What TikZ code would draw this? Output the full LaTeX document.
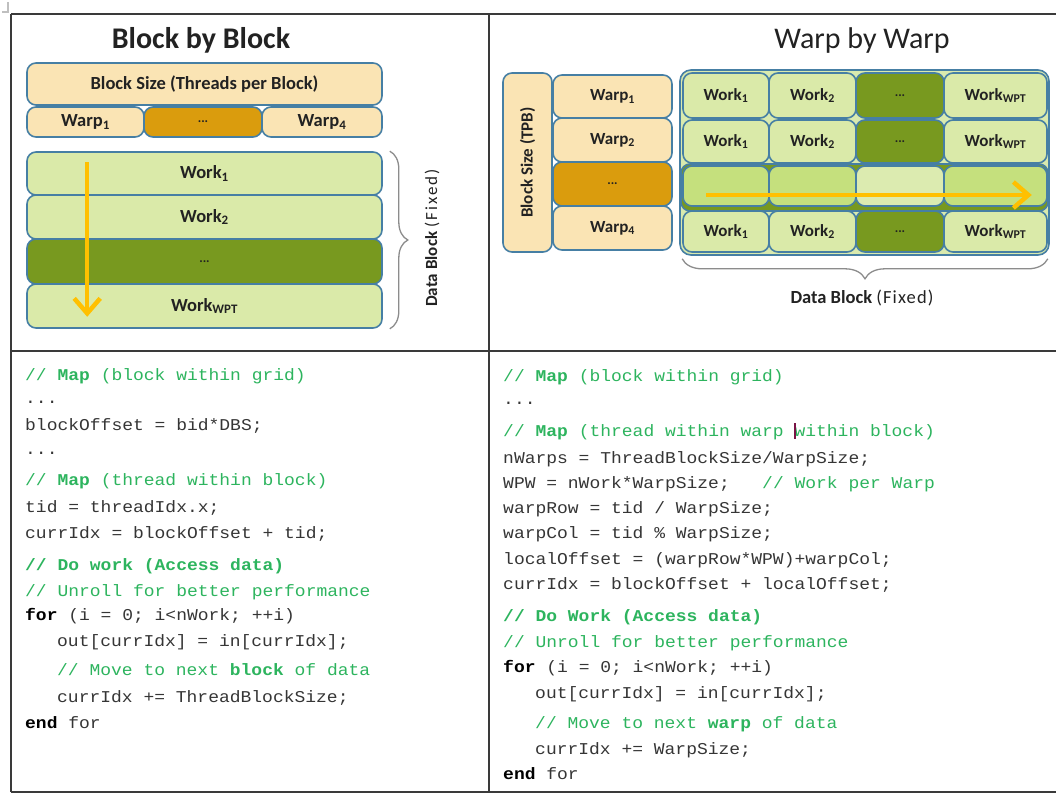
\documentclass[tikz,border=0pt]{standalone}
\usepackage{fontspec}
\setmainfont{Carlito}
\newfontfamily\codefont{Liberation Mono}[FakeStretch=1.09]
\usetikzlibrary{arrows.meta,decorations.pathreplacing,calc}

\definecolor{tanfill}{HTML}{FAE4B4}
\definecolor{warporange}{HTML}{DA9C0D}
\definecolor{edgeblue}{HTML}{467FA4}
\definecolor{workgreen}{HTML}{DAEAA9}
\definecolor{olive}{HTML}{78991F}
\definecolor{rowbright}{HTML}{C5E07D}
\definecolor{rowpale}{HTML}{DCEBB0}
\definecolor{gridbg}{HTML}{D9EAAE}
\definecolor{flowarrow}{HTML}{FFC000}
\definecolor{cmtgreen}{HTML}{2DB45E}
\definecolor{codegray}{HTML}{353535}
\definecolor{labeltext}{HTML}{222222}
\definecolor{bracegray}{HTML}{8C8C8C}
\definecolor{rulegray}{HTML}{3A3A3A}
\definecolor{cursorred}{HTML}{7A1446}

\newcommand\cmt[1]{\textcolor{cmtgreen}{#1}}
\newcommand\kw[1]{\textcolor{black}{\bfseries #1}}

\begin{document}
\begin{tikzpicture}[x=1pt,y=-1pt,
  cell/.style={draw=edgeblue, line width=1.6pt, rounded corners=9pt,
    inner sep=0pt, text=labeltext, align=center},
  tancell/.style={cell, fill=tanfill},
  orangecell/.style={cell, fill=warporange},
  greencell/.style={cell, fill=workgreen},
  olivecell/.style={cell, fill=olive},
  bigfont/.style={font=\bfseries\fontsize{18.5}{20}\selectfont},
  smallfont/.style={font=\bfseries\fontsize{17}{19}\selectfont},
  dotsfont/.style={font=\bfseries\fontsize{13}{13}\selectfont},
  code/.style={anchor=base west, inner sep=0pt, text=codegray,
    font=\codefont\fontsize{16.5}{18}\selectfont},
  flow/.style={draw=flowarrow, line width=4.5pt,
    -{Straight Barb[length=15pt,width=26pt,line width=4.5pt]}},
  bracket/.style={draw=bracegray, line width=1.3pt, decorate},
  rule/.style={draw=rulegray, line width=2pt}
]
\useasboundingbox (0,0) rectangle (1056,794);

% ---------- table rules ----------
\draw[rule] (11,14) -- (1056,14);
\draw[rule] (11,14) -- (11,792);
\draw[rule] (489,14) -- (489,792);
\draw[rule] (11,351) -- (1056,351);
\draw[rule] (11,792) -- (1056,792);
\draw[draw=gray!50, line width=1.4pt] (2,12) -- (9,12) (8,2) -- (8,12);

% ---------- block by block ----------
\node[anchor=base, font=\bfseries\fontsize{30}{32}\selectfont, text=labeltext]
  (titleL) at (201,49) {Block by Block};

\node[tancell, bigfont, minimum width=355pt, minimum height=42pt] (bsz) at (204.5,84)
  {Block Size (Threads per Block)};
\node[tancell, bigfont, minimum width=117pt, minimum height=30pt] (lw1) at (85.5,122)
  {Warp\textsubscript{1}};
\node[orangecell, dotsfont, minimum width=118pt, minimum height=30pt] (lwd) at (203,122)
  {...};
\node[tancell, bigfont, minimum width=120pt, minimum height=30pt] (lw4) at (322,122)
  {Warp\textsubscript{4}};

\node[greencell, bigfont, minimum width=355pt, minimum height=43pt] (lk1) at (204.5,173.5)
  {Work\textsubscript{1}};
\node[greencell, bigfont, minimum width=355pt, minimum height=44pt] (lk2) at (204.5,217)
  {Work\textsubscript{2}};
\node[olivecell, dotsfont, minimum width=355pt, minimum height=45pt] (lkd) at (204.5,261.5)
  {...};
\node[greencell, bigfont, minimum width=355pt, minimum height=44pt] (lkn) at (204.5,306)
  {Work\textsubscript{WPT}};

\coordinate (lflowA) at ($(lk1.north west)+(61,11)$);
\coordinate (lflowB) at ($(lkn.south west)+(61,-12)$);
\draw[flow] (lflowA) -- (lflowB);

\coordinate (lbrA) at ($(lk1.north east)+(7,0)$);
\coordinate (lbrB) at ($(lkn.south east)+(7,0)$);
\draw[bracket, decoration={brace, amplitude=18pt}] (lbrA) -- (lbrB);
\node[rotate=90, text=labeltext, font=\fontsize{17}{19}\selectfont] (ldb) at (432,238)
  {\textbf{Data Block} {\addfontfeature{LetterSpace=12}(Fixed)}};

% ---------- warp by warp ----------
\node[anchor=base, font=\fontsize{30}{32}\selectfont, text=labeltext]
  (titleR) at (862,49) {Warp by Warp};

\node[tancell, smallfont, rotate=90, minimum width=179pt, minimum height=49pt] (tpb)
  at (527.5,162.5) {Block Size (TPB)};

\node[tancell, smallfont, minimum width=119pt, minimum height=43pt] (rw1) at (612.5,96.5)
  {Warp\textsubscript{1}};
\node[tancell, smallfont, minimum width=119pt, minimum height=44pt] (rw2) at (612.5,140)
  {Warp\textsubscript{2}};
\node[orangecell, dotsfont, minimum width=119pt, minimum height=44pt] (rwd) at (612.5,184)
  {...};
\node[tancell, smallfont, minimum width=119pt, minimum height=44pt] (rw4) at (612.5,228)
  {Warp\textsubscript{4}};

\node[cell, fill=gridbg, minimum width=369pt, minimum height=185pt, rounded corners=11pt]
  (grid) at (864.5,162.5) {};

% rows 1, 2 and 4
\foreach \row/\yc/\hh in {a/95.5/45, b/141.5/43, d/231.5/41}{
  \node[greencell, smallfont, minimum width=86pt, minimum height=\hh pt] (r\row1) at (726,\yc)
    {Work\textsubscript{1}};
  \node[greencell, smallfont, minimum width=87pt, minimum height=\hh pt] (r\row2) at (812.5,\yc)
    {Work\textsubscript{2}};
  \node[olivecell, dotsfont, minimum width=88pt, minimum height=\hh pt] (r\row3) at (900,\yc)
    {...};
  \node[greencell, smallfont, minimum width=103pt, minimum height=\hh pt] (r\row4) at (995.5,\yc)
    {Work\textsubscript{WPT}};
}

% row 3: the row being walked through
\node[olivecell, minimum width=367pt, minimum height=47pt] (rcband) at (864.5,187.5) {};
\node[cell, fill=rowbright, minimum width=86pt, minimum height=40pt] (rc1) at (726,186) {};
\node[cell, fill=rowbright, minimum width=87pt, minimum height=40pt] (rc2) at (812.5,186) {};
\node[cell, fill=rowpale, minimum width=88pt, minimum height=40pt] (rc3) at (900,186) {};
\node[cell, fill=rowbright, minimum width=103pt, minimum height=40pt] (rc4) at (995.5,186) {};

\coordinate (rflowA) at ($(rc1.west)+(24,9)$);
\coordinate (rflowB) at ($(rc4.east)+(-16,9)$);
\draw[flow, line width=4pt] (rflowA) -- (rflowB);

\coordinate (rbrA) at ($(grid.south east)+(-2,3)$);
\coordinate (rbrB) at ($(grid.south west)+(3,3)$);
\draw[bracket, decoration={brace, amplitude=20pt}] (rbrA) -- (rbrB);
\node[anchor=base, text=labeltext, font=\fontsize{18.5}{20}\selectfont] (rdb) at (862,303)
  {\textbf{Data Block} {\addfontfeature{LetterSpace=6}(Fixed)}};

% ---------- code: block by block ----------
\node[code] (cL1)  at (25,380) {\cmt{// \textbf{Map} (block within grid)}};
\node[code] (cL2)  at (25,403) {...};
\node[code] (cL3)  at (25,430) {blockOffset = bid*DBS;};
\node[code] (cL4)  at (25,454) {...};
\node[code] (cL5)  at (25,485) {\cmt{// \textbf{Map} (thread within block)}};
\node[code] (cL6)  at (25,512) {tid = threadIdx.x;};
\node[code] (cL7)  at (25,538) {currIdx = blockOffset + tid;};
\node[code] (cL8)  at (25,570) {\cmt{\textbf{// Do work (Access data)}}};
\node[code] (cL9)  at (25,596) {\cmt{// Unroll for better performance}};
\node[code] (cL10) at (25,620) {\kw{for} (i = 0; i<nWork; ++i)};
\node[code] (cL11) at (57,646) {out[currIdx] = in[currIdx];};
\node[code] (cL12) at (57,675) {\cmt{// Move to next \textbf{block} of data}};
\node[code] (cL13) at (57,702) {currIdx += ThreadBlockSize;};
\node[code] (cL14) at (25,728) {\kw{end} for};

% ---------- code: warp by warp ----------
\node[code] (cR1)  at (503,381) {\cmt{// \textbf{Map} (block within grid)}};
\node[code] (cR2)  at (503,404) {...};
\node[code] (cR3)  at (503,436) {\cmt{// \textbf{Map} (thread within warp within block)}};
\node[code] (cR4)  at (503,463) {nWarps = ThreadBlockSize/WarpSize;};
\node[code] (cR5)  at (503,488) {WPW = nWork*WarpSize;\ \ \ \cmt{// Work per Warp}};
\node[code] (cR6)  at (503,513) {warpRow = tid / WarpSize;};
\node[code] (cR7)  at (503,538) {warpCol = tid \% WarpSize;};
\node[code] (cR8)  at (503,564) {localOffset = (warpRow*WPW)+warpCol;};
\node[code] (cR9)  at (503,589) {currIdx = blockOffset + localOffset;};
\node[code] (cR10) at (503,621) {\cmt{\textbf{// Do Work (Access data)}}};
\node[code] (cR11) at (503,647) {\cmt{// Unroll for better performance}};
\node[code] (cR12) at (503,672) {\kw{for} (i = 0; i<nWork; ++i)};
\node[code] (cR13) at (535,698) {out[currIdx] = in[currIdx];};
\node[code] (cR14) at (535,728) {\cmt{// Move to next \textbf{warp} of data}};
\node[code] (cR15) at (535,754) {currIdx += WarpSize;};
\node[code] (cR16) at (503,779) {\kw{end} for};

% text cursor left in the comment
\draw[cursorred, line width=1.3pt] ($(cR3.base west)+(292,-13)$) -- ++(0,16);
\end{tikzpicture}
\end{document}
